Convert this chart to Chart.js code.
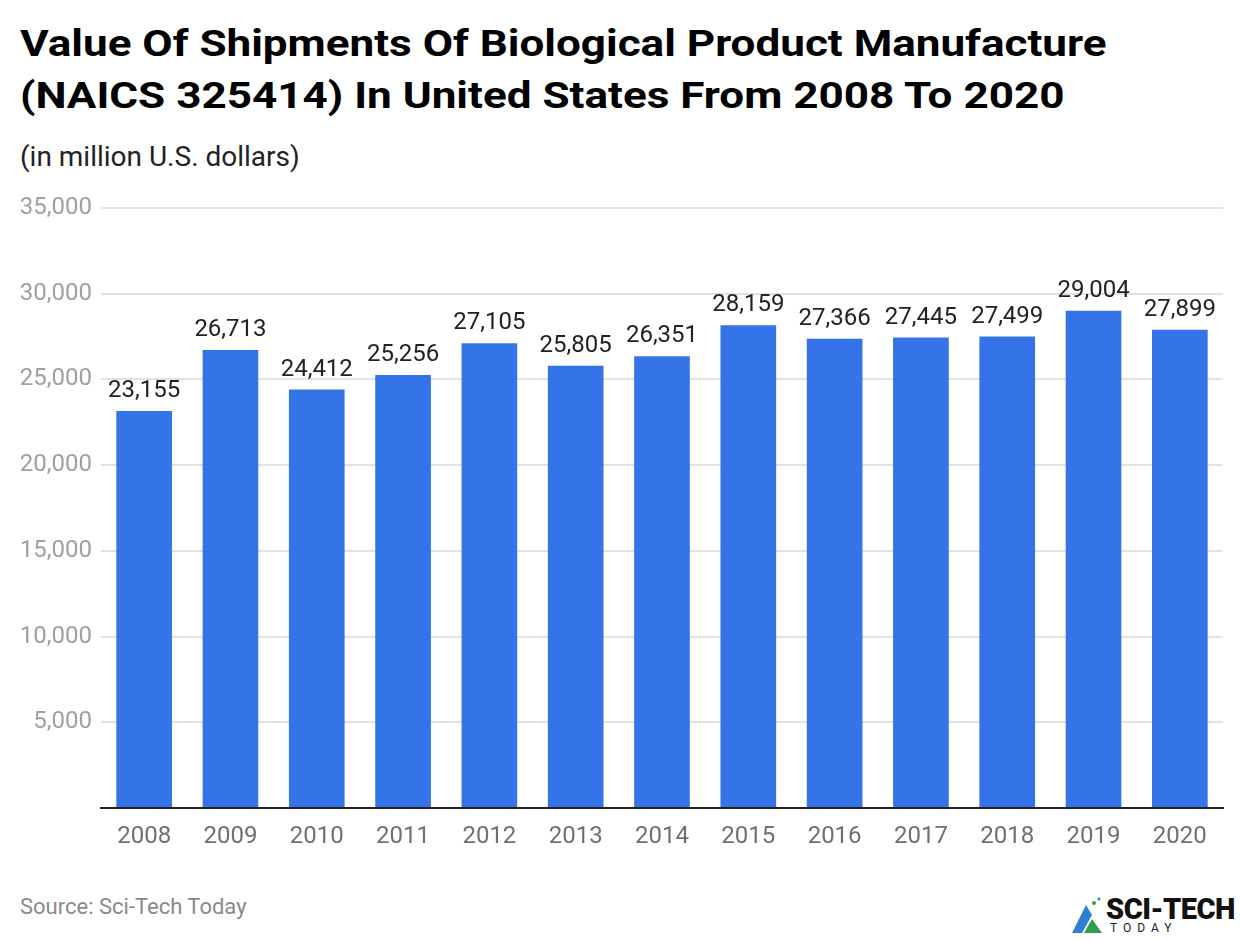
<!DOCTYPE html>
<html>
<head>
<meta charset="utf-8">
<script src="https://cdn.jsdelivr.net/npm/chart.js@4"></script>
<style>
  body { margin: 0; background: #fff; font-family: Roboto, sans-serif; }
  #page { position: relative; width: 1240px; height: 940px; overflow: hidden; }
  h1 { position: absolute; left: 20px; top: 18px; margin: 0; font-size: 37px; line-height: 52px; font-weight: 700; color: #000;
       white-space: nowrap; transform: scaleX(1.19); transform-origin: left top; }
  .sub { position: absolute; left: 20px; top: 140px; font-size: 28px; color: #222; white-space: nowrap; }
  .src { position: absolute; left: 20px; top: 894px; font-size: 22px; color: #8a8a8a; }
  #wrap { position: absolute; left: 0; top: 181px; width: 1240px; height: 680px; }
  .logo { position: absolute; left: 1068px; top: 893px; width: 172px; height: 44px; white-space: nowrap; }
  .logo .big { position: absolute; left: 38px; top: 2px; font-size: 29px; font-weight: 900; color: #111; letter-spacing: -0.5px; line-height: 28px; white-space: nowrap; }
  .logo .small { position: absolute; left: 42px; top: 29px; font-size: 12px; letter-spacing: 6px; color: #222; line-height: 12px; white-space: nowrap; }
</style>
</head>
<body>
<div id="page">
  <h1>Value Of Shipments Of Biological Product Manufacture<br>(NAICS 325414) In United States From 2008 To 2020</h1>
  <div class="sub">(in million U.S. dollars)</div>
  <div id="wrap"><canvas id="chart"></canvas></div>
  <div class="src">Source: Sci-Tech Today</div>
  <div class="logo">
    <svg width="40" height="44" style="position:absolute;left:0;top:0">
      <polygon points="4,40 18,12 24,22 14,40" fill="#2f7fd0"/>
      <polygon points="16,40 24,26 34,40" fill="#2e9e4a"/>
      <circle cx="26" cy="10" r="2" fill="#2e9e4a"/>
      <circle cx="31" cy="6" r="1.5" fill="#2f7fd0"/>
    </svg>
    <div class="big">SCI-TECH</div>
    <div class="small">TODAY</div>
  </div>
</div>
<script>
const years = ['2008', '2009', '2010', '2011', '2012', '2013', '2014', '2015', '2016', '2017', '2018', '2019', '2020'];
const shipments = [23155, 26713, 24412, 25256, 27105, 25805, 26351, 28159, 27366, 27445, 27499, 29004, 27899];
const yTicks = [0, 5000, 10000, 15000, 20000, 25000, 30000, 35000];

const valueLabels = {
    id: 'valueLabels',
    afterDatasetsDraw(chart) {
        const ctx = chart.ctx;
        const meta = chart.getDatasetMeta(0);
        ctx.save();
        ctx.font = '24px Roboto';
        ctx.fillStyle = '#222';
        ctx.textAlign = 'center';
        ctx.textBaseline = 'bottom';
        meta.data.forEach(function (bar, i) {
            ctx.fillText(shipments[i].toLocaleString('en-US'), bar.x, bar.y - 8);
        });
        ctx.restore();
    }
};

const ctx = document.getElementById('chart').getContext('2d');
new Chart(ctx, {
    type: 'bar',
    data: {
        labels: years,
        datasets: [{
            data: shipments,
            backgroundColor: '#3474e8',
            barPercentage: 0.645,
            categoryPercentage: 1.0
        }]
    },
    options: {
        responsive: true,
        maintainAspectRatio: false,
        animation: false,
        layout: { padding: { top: 27, right: 17, left: 0, bottom: 0 } },
        plugins: {
            legend: { display: false },
            tooltip: { enabled: false }
        },
        scales: {
            x: {
                grid: { display: false },
                border: { display: true, color: '#222', width: 2 },
                ticks: { color: '#707070', font: { family: 'Roboto', size: 24 }, padding: 7 },
                afterFit: function (scale) { scale.height = 53; }
            },
            y: {
                min: 0,
                max: 35000,
                afterBuildTicks: function (scale) { scale.ticks = yTicks.map(function (v) { return { value: v }; }); },
                grid: { color: '#e2e2e2', lineWidth: 2, drawTicks: false },
                border: { display: false },
                ticks: {
                    color: '#a0a0a0',
                    font: { family: 'Roboto', size: 24 },
                    padding: 9,
                    callback: function (v) { return v === 0 ? '' : v.toLocaleString('en-US'); }
                },
                afterFit: function (scale) { scale.width = 101; }
            }
        }
    },
    plugins: [valueLabels]
});
</script>
</body>
</html>
